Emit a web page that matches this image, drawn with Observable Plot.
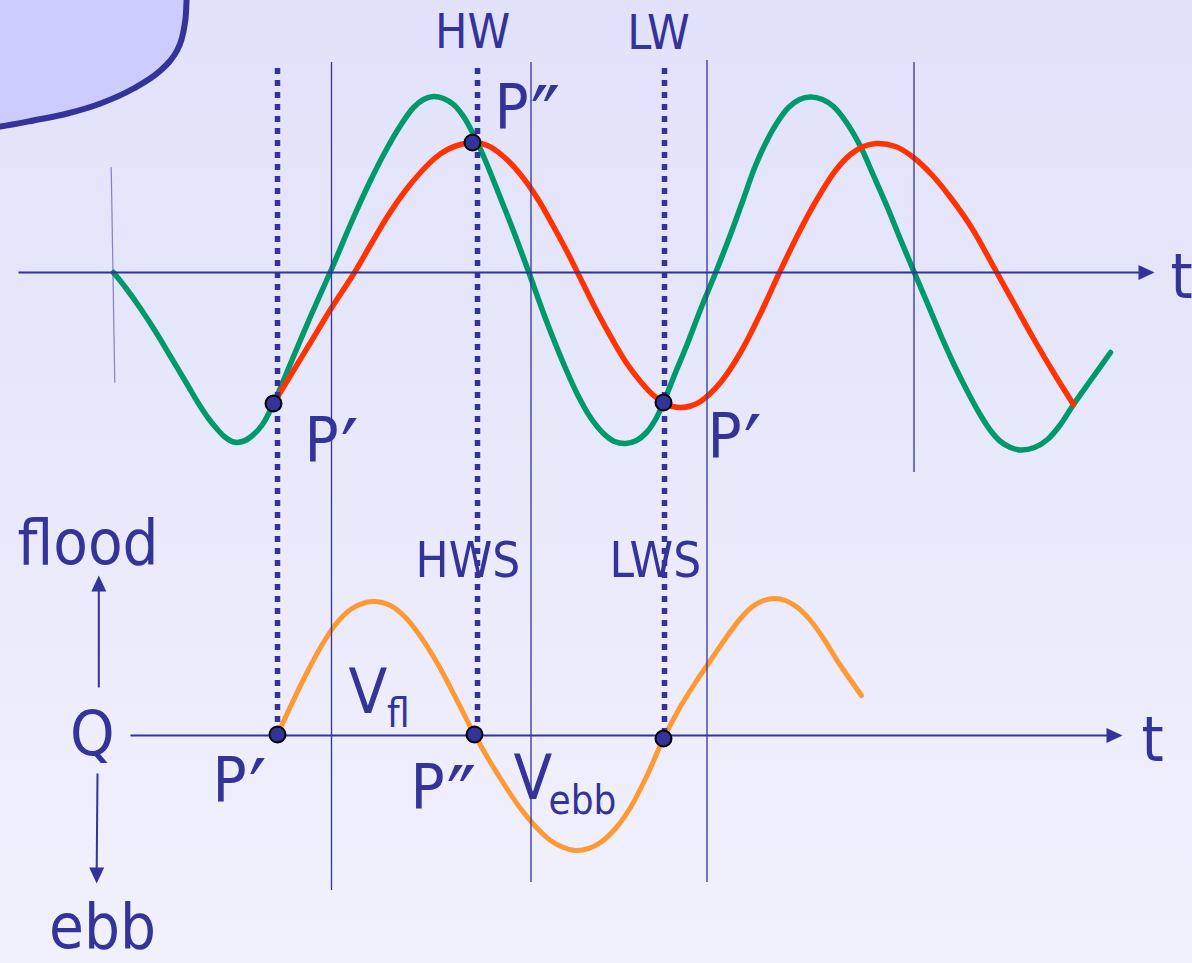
<!DOCTYPE html>
<html>
<head>
<meta charset="utf-8">
<script src="https://cdn.jsdelivr.net/npm/d3@7"></script>
<script src="https://cdn.jsdelivr.net/npm/@observablehq/plot@0.6"></script>
<style>
  html, body { margin: 0; padding: 0; }
  body { width: 1192px; height: 963px; overflow: hidden; background: linear-gradient(#e1e1fa, #f1f1fd); }
  #chart svg text { font-stretch: condensed; }
</style>
</head>
<body>
<div id="chart"></div>
<script>
// Tidal basin: sea level (green), basin level (red) and discharge Q through the inlet (orange).
// Time t and both levels are in arbitrary units; Q is drawn on its own axis below the levels.

// sea level
const seaT = [0, 1.2, 2.7, 4.2, 5.7, 7.2, 8.5, 9.5, 10.4, 11.2, 12.0, 12.9, 13.9, 14.9, 16.0, 18.0, 19.7, 21.7, 24.0, 25.7,
  27.4, 28.7, 30.0, 31.0, 32.0, 33.0, 34.0, 35.0, 36.0, 37.1, 38.4, 39.9, 41.5, 43.2, 45.0, 46.4, 47.7, 49.0, 50.1, 51.2,
  52.3, 53.3, 54.2, 55.0, 56.2, 57.4, 58.7, 60.3, 61.7, 62.9, 64.2, 65.4, 66.5, 67.5, 68.6, 69.7, 70.9, 72.0, 73.3, 74.7,
  76.0, 77.4, 78.7, 80.0, 81.4, 82.7, 84.0, 85.4, 86.6, 87.7, 88.7, 89.7, 90.7, 92.1, 93.4, 94.7, 96.0, 97.7, 99.7];
const seaLevel = [0, -1.5, -3.6, -5.9, -8.4, -10.9, -13.1, -14.6, -15.7, -16.5, -16.95, -16.9, -16.3, -15.2, -13.1, -8.4, -4.4, 0.1, 5.5, 9.2,
  12.5, 14.7, 16.5, 17.3, 17.6, 17.4, 16.8, 15.6, 13.8, 11.4, 8.2, 4.4, 0.1, -4.6, -9.1, -12.2, -14.5, -16.1, -16.9, -17.1,
  -16.8, -16.0, -14.7, -13.0, -10.0, -7.1, -3.7, 0.2, 3.8, 7.1, 10.7, 13.3, 15.2, 16.5, 17.3, 17.55, 17.3, 16.6, 15.0, 12.6,
  9.7, 6.5, 3.3, 0.2, -3.1, -6.2, -9.1, -11.9, -14.1, -15.8, -16.9, -17.5, -17.75, -17.5, -16.7, -15.2, -13.2, -10.8, -8.0];

// basin level
const basinT = [16.0, 17.7, 19.7, 21.7, 24.1, 25.7, 27.4, 29.2, 30.7, 32.1, 33.4, 34.7, 35.9, 37.4, 39.0, 40.7, 42.4, 44.0, 45.4, 46.4,
  48.4, 50.0, 51.4, 52.7, 53.9, 55.0, 55.9, 56.8, 57.7, 58.7, 60.7, 62.7, 64.7, 66.6, 68.7, 70.4, 72.2, 73.7, 75.0, 76.3,
  78.2, 80.0, 81.9, 83.7, 85.8, 88.0, 90.0, 92.0, 94.0, 96.0];
const basinLevel = [-13.1, -10.3, -7.0, -3.7, 0, 2.75, 5.6, 8.2, 10.0, 11.4, 12.3, 12.8, 13.0, 12.7, 11.6, 9.8, 7.4, 4.6, 2.0, 0,
  -4.0, -6.9, -9.2, -10.9, -12.2, -13.0, -13.4, -13.5, -13.35, -12.9, -11.0, -8.0, -4.1, 0, 4.3, 7.4, 10.2, 11.8, 12.6, 12.9,
  12.6, 11.5, 9.7, 7.5, 4.5, 0.6, -3.0, -6.6, -10.0, -13.2];

// discharge (flood > 0, ebb < 0)
const flowT = [16.4, 17.7, 19.2, 20.7, 22.2, 23.7, 25.2, 26.2, 27.7, 29.2, 30.7, 32.4, 34.2, 36.1, 37.7, 39.2, 40.7, 42.2, 43.7, 45.0,
  46.2, 47.5, 48.7, 50.2, 51.7, 53.4, 55.0, 56.7, 58.2, 59.7, 61.2, 62.7, 63.9, 65.0, 66.1, 67.2, 68.4, 69.7, 71.0, 72.5, 74.8];
const discharge = [0.1, 2.9, 6.0, 8.8, 11.1, 12.6, 13.3, 13.4, 13.0, 11.8, 9.9, 7.2, 3.8, 0.1, -2.7, -5.1, -7.3, -9.1, -10.5, -11.2,
  -11.5, -11.3, -10.7, -9.3, -7.2, -3.9, -0.3, 2.9, 5.3, 7.5, 9.7, 11.7, 12.9, 13.5, 13.7, 13.5, 12.8, 11.5, 9.7, 7.3, 4.0];

// slack points: sea level meets basin level (P′, P″) and discharge is zero
const slackT      = [16.0, 35.9, 55.0];
const slackLevel  = [-13.1, 13.0, -13.0];
const slackFlowT  = [16.4, 36.1, 55.0];
const slackFlow   = [0.1, 0.1, -0.3];
const slackLineT  = [16.4, 36.4, 55.1];

// thin reference lines
const refT      = [21.8, 41.75, 59.35, 80.05];
const refTop    = [21.0, 21.0, 21.2, 21.0];
const refBottom = [-61.8, -61.0, -61.0, -20.0];

// discharge axis position in the shared vertical units
const qAxis = -46.3;

// outline of the corner shape (t, level)
const cornerT     = [-12.0, -11.3, -8.0, -4.6, -1.3, 2.0, 4.7, 5.6, 6.3, 6.8, 7.1, 7.25, 7.3, 7.32];
const cornerLevel = [14.5, 14.6, 15.2, 15.9, 16.9, 18.4, 20.2, 21.1, 22.1, 23.3, 24.7, 26.0, 27.2, 28.0];

// labels on the level panel (t, level)
const levelBig = [
  {text: "P″", t: 38.1, v: 14.5},
  {text: "P′", t: 19.1, v: -18.8},
  {text: "P′", t: 59.4, v: -18.4},
  {text: "t",  t: 105.7, v: -2.5}
];
const levelMid = [
  {text: "HW", t: 35.9, v: 22.5},
  {text: "LW", t: 54.5, v: 22.4}
];
// labels on the discharge panel (t, Q)
const flowBig = [
  {text: "flood", t: -9.6, q: 17.2},
  {text: "Q",     t: -4.35, q: -1.9},
  {text: "ebb",   t: -6.45, q: -21.2},
  {text: "P′",    t: 9.9, q: -6.5},
  {text: "P″",    t: 29.7, q: -7.2},
  {text: "V",     t: 23.5, q: 2.3},
  {text: "V",     t: 40.0, q: -6.3},
  {text: "t",     t: 102.8, q: -2.5}
];
const flowMid = [
  {text: "HWS", t: 30.2, q: 15.9},
  {text: "LWS", t: 49.6, q: 15.9}
];
const flowSub = [
  {text: "fl",  t: 27.35, q: 0.9},
  {text: "ebb", t: 43.5, q: -7.8}
];

const navy = "#333399";
const font = "'DejaVu Sans Condensed', 'DejaVu Sans', sans-serif";

const sea = seaT.map((t, i) => ({t, v: seaLevel[i]}));
const basin = basinT.map((t, i) => ({t, v: basinLevel[i]}));
const flow = flowT.map((t, i) => ({t, v: qAxis + discharge[i]}));
const slackTop = slackT.map((t, i) => ({t, v: slackLevel[i]}));
const slackBottom = slackFlowT.map((t, i) => ({t, v: qAxis + slackFlow[i]}));
const refs = refT.map((t, i) => ({t, top: refTop[i], bottom: refBottom[i]}));
const corner = cornerT.map((t, i) => ({t, v: cornerLevel[i]}));
const onFlowAxis = d => ({text: d.text, t: d.t, v: qAxis + d.q});

// axis arrows: shafts and filled heads
const shafts = [
  {t1: -9.5, v1: 0, t2: 102.6, v2: 0},
  {t1: 1.7, v1: qAxis, t2: 99.5, v2: qAxis},
  {t1: -1.47, v1: qAxis + 4.8, t2: -1.47, v2: qAxis + 14.5},
  {t1: -1.6, v1: qAxis - 3.8, t2: -1.68, v2: qAxis - 13.3}
];
const heads = [
  {t: 104.1, v: 0, dir: 90},
  {t: 100.9, v: qAxis, dir: 90},
  {t: -1.47, v: qAxis + 16.0, dir: 0},
  {t: -1.68, v: qAxis - 14.8, dir: 180}
];
const headShape = {
  draw(ctx, l, r) {
    ctx.moveTo(0, -l);
    ctx.lineTo(-r, 0);
    ctx.lineTo(r, 0);
    ctx.closePath();
  }
};

const label = (data, size, anchor) =>
  Plot.text(data, {x: "t", y: "v", text: "text", textAnchor: anchor, lineAnchor: "bottom", fontSize: size, fontFamily: font, fill: navy});

const chart = Plot.plot({
  width: 1192,
  height: 963,
  margin: 0,
  style: {background: "transparent", overflow: "visible"},
  x: {domain: [-11.3, 107.9], axis: null},
  y: {domain: [-69.1, 27.2], axis: null},
  marks: [
    // corner shape
    Plot.areaY(corner, {x: "t", y1: 28.5, y2: "v", fill: "#ccccff", curve: "monotone-x"}),
    Plot.line(corner, {x: "t", y: "v", stroke: navy, strokeWidth: 6, curve: "monotone-x"}),

    // curves
    Plot.line(sea, {x: "t", y: "v", stroke: "#00996c", strokeWidth: 5.5, curve: "catmull-rom"}),
    Plot.line(basin, {x: "t", y: "v", stroke: "#ff3300", strokeWidth: 5.5, curve: "catmull-rom"}),
    Plot.line(flow, {x: "t", y: "v", stroke: "#ff9933", strokeWidth: 5, curve: "catmull-rom"}),

    // start tick and reference lines
    Plot.link([{t1: -0.23, v1: 10.53, t2: 0.13, v2: -11.03}], {x1: "t1", y1: "v1", x2: "t2", y2: "v2", stroke: navy, strokeOpacity: 0.55, strokeWidth: 1.2}),
    Plot.ruleX(refs, {x: "t", y1: "top", y2: "bottom", stroke: navy, strokeWidth: 1.3}),

    // axes
    Plot.link(shafts, {x1: "t1", y1: "v1", x2: "t2", y2: "v2", stroke: navy, strokeWidth: 2}),
    Plot.vector(heads, {x: "t", y: "v", rotate: "dir", length: 16, r: 7.5, anchor: "end", shape: headShape, fill: navy, stroke: "none"}),

    // labels
    label(levelBig, 63, "start"),
    label(levelMid, 48, "middle"),
    label(flowBig.map(onFlowAxis), 63, "start"),
    label(flowMid.map(onFlowAxis), 49, "start"),
    label(flowSub.map(onFlowAxis), 40, "start"),

    // dotted slack lines from HW/LW down to the discharge axis
    Plot.ruleX(slackLineT, {x: d => d, y1: 20.4, y2: qAxis, stroke: navy, strokeWidth: 5.5, strokeDasharray: "6,6"}),

    // slack points
    Plot.dot(slackTop, {x: "t", y: "v", r: 8, fill: navy, stroke: "black", strokeWidth: 2}),
    Plot.dot(slackBottom, {x: "t", y: "v", r: 8, fill: navy, stroke: "black", strokeWidth: 2})
  ]
});

// set the prime marks of P′ / P″ a little larger, as in slide typography
d3.select(chart).selectAll("text").each(function () {
  const m = this.textContent.match(/^(.*?)([′″]+)$/);
  if (!m) return;
  const el = d3.select(this);
  el.text(m[1]);
  el.append("tspan")
    .attr("font-family", "'DejaVu Sans', sans-serif")
    .attr("font-size", 88)
    .attr("dx", 2)
    .attr("dy", 21)
    .text(m[2]);
});

document.getElementById("chart").appendChild(chart);
</script>
</body>
</html>
